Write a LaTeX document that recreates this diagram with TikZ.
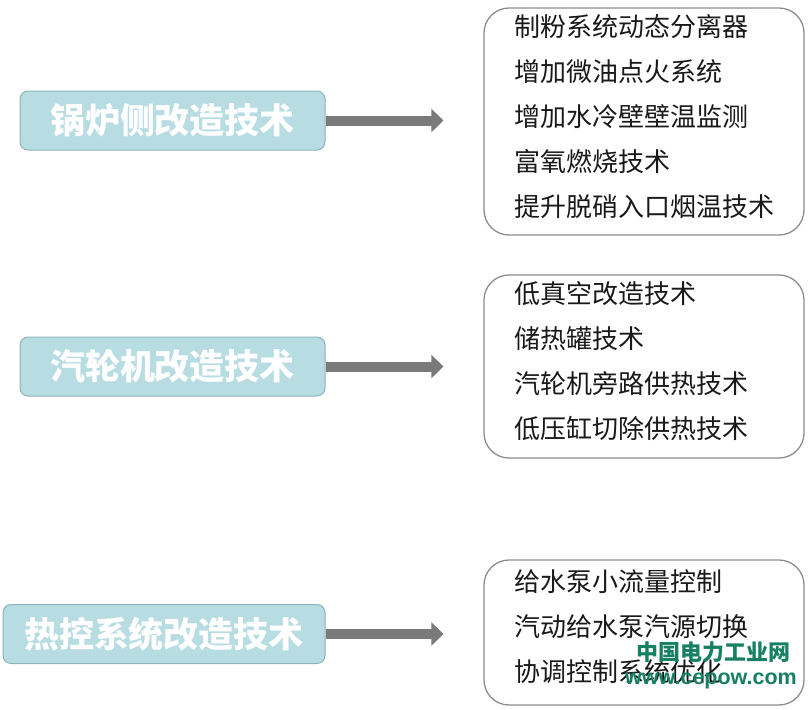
\documentclass[tikz,border=0pt]{standalone}
\usepackage{fontspec}
\usepackage{tikz}
\usetikzlibrary{positioning,arrows.meta}
\newfontfamily\cjk{Noto Sans CJK SC}
\newfontfamily\wangzhi{Liberation Sans}
\definecolor{qingse}{RGB}{183,221,226}
\definecolor{qingbian}{RGB}{140,180,186}
\definecolor{huise}{RGB}{122,122,122}
\definecolor{kuangbian}{RGB}{140,140,140}
\definecolor{lvse}{RGB}{22,128,98}
\tikzset{
  leibie/.style  = {draw=qingbian, fill=qingse, line width=1pt, rounded corners=8pt,
                    text=white, inner sep=0pt, minimum height=59pt,
                    font=\cjk\bfseries\fontsize{35}{40}\selectfont},
  liebiao/.style = {draw=kuangbian, line width=1.3pt, rounded corners=25pt, align=left,
                    text width=260pt, inner xsep=30pt, inner ysep=0pt, text=black!90,
                    font=\cjk\fontsize{26}{45}\selectfont},
  jiantou/.style = {-{Triangle[length=12pt,width=23pt]}, draw=huise, line width=10pt,
                    shorten >=40pt},
  shuiyin/.style = {text=lvse, inner sep=0pt}
}
\begin{document}
\begin{tikzpicture}[x=1pt, y=-1pt]
    \useasboundingbox (0,0) rectangle (812,710);
    \node[leibie, minimum width=305pt] (guolu) at (172.5,120.5) {锅炉侧改造技术};
    \node[leibie, minimum width=305pt] (qilun) at (172.5,366.5) {汽轮机改造技术};
    \node[leibie, minimum width=322pt] (rekong) at (164,634) {热控系统改造技术};

    \node[liebiao, minimum height=227pt, text depth=193pt] (guolu-l) at (644,121.5)
        {制粉系统动态分离器\\ 增加微油点火系统\\ 增加水冷壁壁温监测\\ 富氧燃烧技术\\ 提升脱硝入口烟温技术};
    \node[liebiao, minimum height=183pt, text depth=148pt] (qilun-l) at (644,366.5)
        {低真空改造技术\\ 储热罐技术\\ 汽轮机旁路供热技术\\ 低压缸切除供热技术};
    \node[liebiao, minimum height=145pt, text depth=103pt] (rekong-l) at (644,632.5)
        {给水泵小流量控制\\ 汽动给水泵汽源切换\\ 协调控制系统优化};

    \draw[jiantou] (guolu.east) -- (guolu.east -| guolu-l.west);
    \draw[jiantou] (qilun.east) -- (qilun.east -| qilun-l.west);
    \draw[jiantou] (rekong.east) -- (rekong.east -| rekong-l.west);

    % watermark
    \node[shuiyin, font=\cjk\bfseries\fontsize{22}{24}\selectfont] (wm1) at (713,652) {中国电力工业网};
    \node[shuiyin, font=\wangzhi\bfseries\fontsize{21.5}{24}\selectfont] (wm2) at (711,681) {www.cepow.com};
\end{tikzpicture}
\end{document}
